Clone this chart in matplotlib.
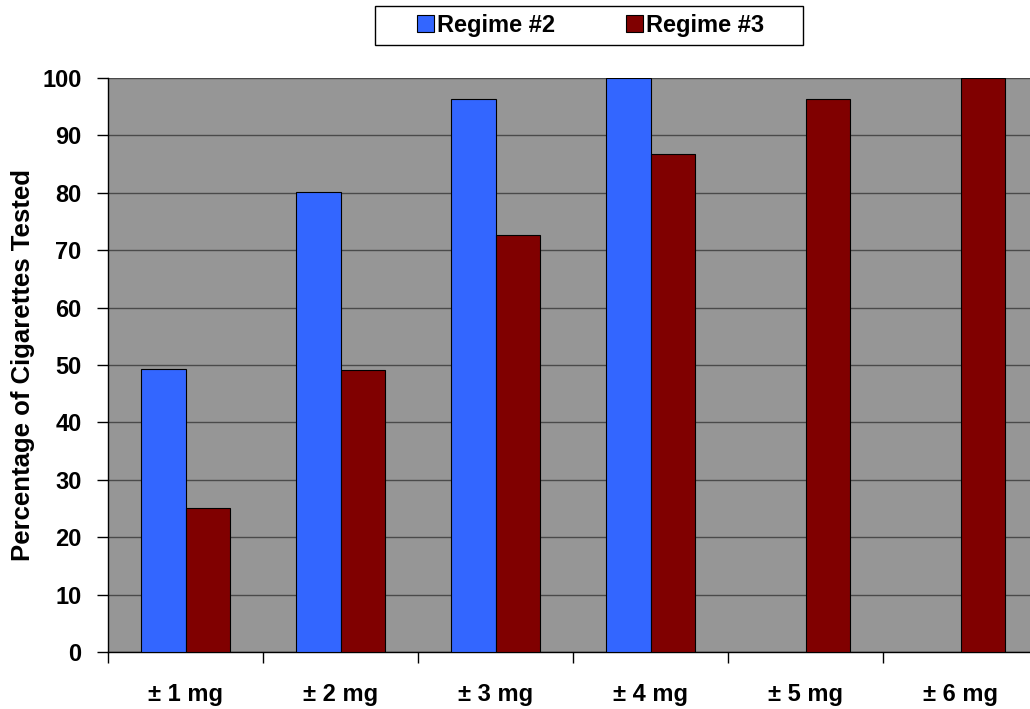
import numpy as np
import matplotlib
matplotlib.use("Agg")
import matplotlib.pyplot as plt
from matplotlib.patches import Patch, Rectangle

plt.rcParams['font.family'] = ['Liberation Sans', 'DejaVu Sans']
plt.rcParams['font.weight'] = 'bold'

categories = ["\u00b1 1 mg", "\u00b1 2 mg", "\u00b1 3 mg", "\u00b1 4 mg", "\u00b1 5 mg", "\u00b1 6 mg"]
regime2 = [49.3, 80.1, 96.3, 100.0, np.nan, np.nan]
regime3 = [25.1, 49.1, 72.7, 86.7, 96.3, 100.0]
series_names = ["Regime #2", "Regime #3"]
colors = ["#3366FF", "#800000"]

W, H = 1030, 709
fig = plt.figure(figsize=(W/100, H/100), dpi=100)
# plot area runs slightly past the right edge of the figure
ax = fig.add_axes([108/W, 1 - 652/H, 930/W, (652 - 78)/H])
ax.set_facecolor("#969696")

x = np.arange(len(categories))
w = 0.287
ax.bar(x - w/2, regime2, w, color=colors[0], edgecolor="black", linewidth=0.8, zorder=3)
ax.bar(x + w/2, regime3, w, color=colors[1], edgecolor="black", linewidth=0.8, zorder=3)

ax.set_xlim(-0.5, len(categories) - 0.5)
ax.set_ylim(0, 100)
ax.set_yticks(range(0, 101, 10))
ax.yaxis.grid(True, color="#4a4a4a", linewidth=1.0, zorder=1)
ax.set_axisbelow(True)

ax.set_xticks(x)
ax.set_xticklabels(categories, fontsize=17, fontweight="bold")
ax.set_xticks(np.arange(-0.5, len(categories), 1.0), minor=True)
ax.tick_params(axis="x", which="major", length=0, pad=22)
ax.tick_params(axis="x", which="minor", length=8, width=1, color="black")
ax.tick_params(axis="y", length=8, width=1, labelsize=17, pad=11)
for lbl in ax.get_yticklabels():
    lbl.set_fontweight("bold")

for side in ["top", "right"]:
    ax.spines[side].set_visible(False)
ax.spines["left"].set_linewidth(1)
ax.spines["bottom"].set_linewidth(1)

ax.set_ylabel("Percentage of Cigarettes Tested", fontsize=18.5, fontweight="bold", labelpad=5)

# legend box is wider than the entries, so draw the frame separately
fig.patches.append(Rectangle((375/W, 1 - 45/H), (803 - 375)/W, 39/H, transform=fig.transFigure,
                             facecolor="white", edgecolor="black", linewidth=1, zorder=0))
handles = [Patch(facecolor=c, edgecolor="black", linewidth=0.8) for c in colors]
fig.legend(handles, series_names, loc="center", bbox_to_anchor=(591/W, 1 - 25.5/H),
           ncol=2, frameon=False, handlelength=0.7, handleheight=0.7, handletextpad=0.15,
           columnspacing=3.0, borderpad=0.0, prop={"weight": "bold", "size": 17})

fig.savefig("out.png", dpi=100)
